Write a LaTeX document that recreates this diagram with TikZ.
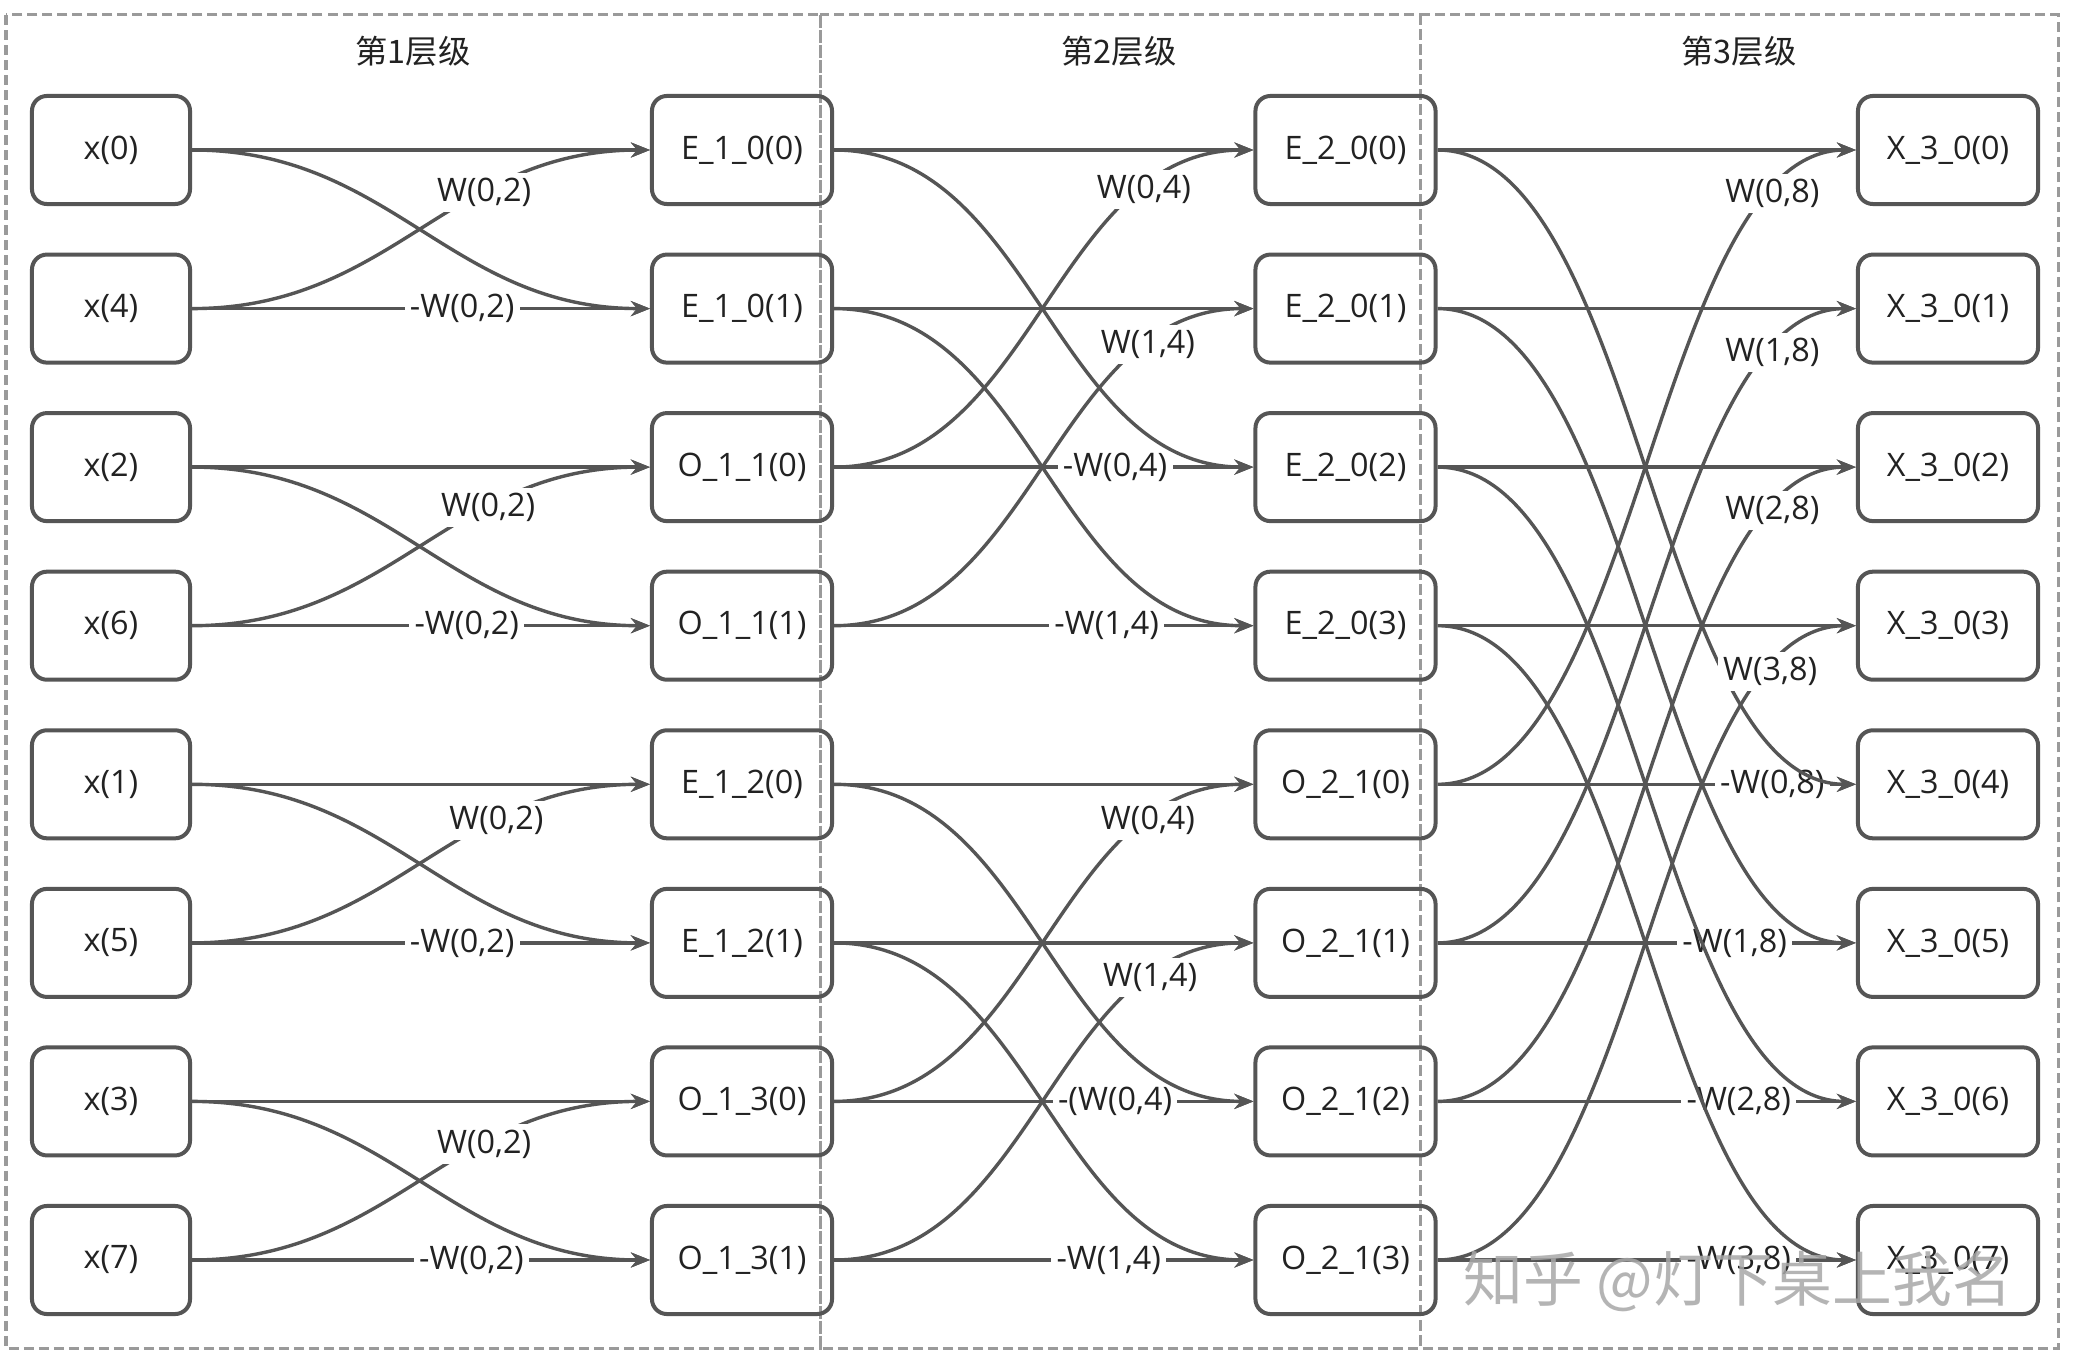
\documentclass[tikz,border=0pt]{standalone}
\usepackage{fontspec}
\setmainfont{Open Sans}
\newfontfamily\cjk{Noto Sans CJK SC}
\usetikzlibrary{arrows.meta}
\definecolor{ln}{HTML}{555555}
\definecolor{tx}{HTML}{222222}
\definecolor{fr}{HTML}{9A9A9A}
\definecolor{wm}{HTML}{A8A8A8}
% #1 top src, #2 bottom src, #3 top tgt, #4 bottom tgt,
% #5 curve label, #6 its pos, #7 straight label, #8 its pos
\newcommand\bfly[8]{%
  \draw[edge] (#1.east) -- (#3.west);
  \draw[edge] (#2.east) -- node[lbl,pos=#8] {#7} (#4.west);
  \draw[edge] (#1.east) .. controls +(200,0) and +(-200,0) .. (#4.west);
  \draw[edge] (#2.east) .. controls +(200,0) and +(-200,0) .. node[lbl,pos=#6] {#5} (#3.west);
}
\begin{document}
\begin{tikzpicture}[x=0.01cm,y=-0.01cm,
  box/.style={draw=ln, line width=0.04cm, rounded corners=0.15cm, minimum height=1.08cm, inner sep=0pt, text=tx, font=\fontsize{9.2pt}{11pt}\selectfont},
  boxa/.style={box, minimum width=1.58cm},
  boxb/.style={box, minimum width=1.80cm},
  edge/.style={draw=ln, line width=0.034cm, -{Stealth[length=0.19cm,width=0.15cm]}},
  lbl/.style={fill=white, text=tx, inner sep=1.5pt, font=\fontsize{9.2pt}{11pt}\selectfont},
  frame/.style={draw=fr, line width=0.03cm, dash pattern=on 0.1cm off 0.05cm},
  ttl/.style={text=tx, font=\cjk\fontsize{9.2pt}{11pt}\selectfont}]
\useasboundingbox (0,0) rectangle (2075,1364);
\fill[white] (0,0) rectangle (2075,1364);

% group frames
\draw[frame] (6,15) rectangle (820,1348);
\draw[frame] (820,15) rectangle (1420,1348);
\draw[frame] (1420,15) rectangle (2058,1348);
\node[ttl] (t1) at (413,51) {第1层级};
\node[ttl] (t2) at (1119,51) {第2层级};
\node[ttl] (t3) at (1739,51) {第3层级};

% column A
\node[boxa] (a0) at (111,150)   {x(0)};
\node[boxa] (a1) at (111,308.6) {x(4)};
\node[boxa] (a2) at (111,467.1) {x(2)};
\node[boxa] (a3) at (111,625.7) {x(6)};
\node[boxa] (a4) at (111,784.3) {x(1)};
\node[boxa] (a5) at (111,942.9) {x(5)};
\node[boxa] (a6) at (111,1101.4){x(3)};
\node[boxa] (a7) at (111,1260)  {x(7)};
% column B
\node[boxb] (b0) at (742,150)   {E\_1\_0(0)};
\node[boxb] (b1) at (742,308.6) {E\_1\_0(1)};
\node[boxb] (b2) at (742,467.1) {O\_1\_1(0)};
\node[boxb] (b3) at (742,625.7) {O\_1\_1(1)};
\node[boxb] (b4) at (742,784.3) {E\_1\_2(0)};
\node[boxb] (b5) at (742,942.9) {E\_1\_2(1)};
\node[boxb] (b6) at (742,1101.4){O\_1\_3(0)};
\node[boxb] (b7) at (742,1260)  {O\_1\_3(1)};
% column C
\node[boxb] (c0) at (1345.5,150)   {E\_2\_0(0)};
\node[boxb] (c1) at (1345.5,308.6) {E\_2\_0(1)};
\node[boxb] (c2) at (1345.5,467.1) {E\_2\_0(2)};
\node[boxb] (c3) at (1345.5,625.7) {E\_2\_0(3)};
\node[boxb] (c4) at (1345.5,784.3) {O\_2\_1(0)};
\node[boxb] (c5) at (1345.5,942.9) {O\_2\_1(1)};
\node[boxb] (c6) at (1345.5,1101.4){O\_2\_1(2)};
\node[boxb] (c7) at (1345.5,1260)  {O\_2\_1(3)};
% column D
\node[boxb] (d0) at (1948,150)   {X\_3\_0(0)};
\node[boxb] (d1) at (1948,308.6) {X\_3\_0(1)};
\node[boxb] (d2) at (1948,467.1) {X\_3\_0(2)};
\node[boxb] (d3) at (1948,625.7) {X\_3\_0(3)};
\node[boxb] (d4) at (1948,784.3) {X\_3\_0(4)};
\node[boxb] (d5) at (1948,942.9) {X\_3\_0(5)};
\node[boxb] (d6) at (1948,1101.4){X\_3\_0(6)};
\node[boxb] (d7) at (1948,1260)  {X\_3\_0(7)};

% stage 1
\bfly{a0}{a1}{b0}{b1}{W(0,2)}{0.66}{-W(0,2)}{0.59}
\bfly{a2}{a3}{b2}{b3}{W(0,2)}{0.67}{-W(0,2)}{0.60}
\bfly{a4}{a5}{b4}{b5}{W(0,2)}{0.69}{-W(0,2)}{0.59}
\bfly{a6}{a7}{b6}{b7}{W(0,2)}{0.66}{-W(0,2)}{0.61}
% stage 2
\bfly{b0}{b2}{c0}{c2}{W(0,4)}{0.78}{-W(0,4)}{0.67}
\bfly{b1}{b3}{c1}{c3}{W(1,4)}{0.79}{-W(1,4)}{0.65}
\bfly{b4}{b6}{c4}{c6}{W(0,4)}{0.79}{-(W(0,4)}{0.67}
\bfly{b5}{b7}{c5}{c7}{W(1,4)}{0.795}{-W(1,4)}{0.655}
% stage 3
\bfly{c0}{c4}{d0}{d4}{W(0,8)}{0.84}{-W(0,8)}{0.80}
\bfly{c1}{c5}{d1}{d5}{W(1,8)}{0.84}{-W(1,8)}{0.71}
\bfly{c2}{c6}{d2}{d6}{W(2,8)}{0.84}{-W(2,8)}{0.72}
\bfly{c3}{c7}{d3}{d7}{W(3,8)}{0.835}{-W(3,8)}{0.72}

% watermark
\node[text=wm, opacity=0.85, font=\cjk\fontsize{17pt}{20pt}\selectfont] (wmk) at (1738,1281) {知乎 @灯下桌上我名};
\end{tikzpicture}
\end{document}
